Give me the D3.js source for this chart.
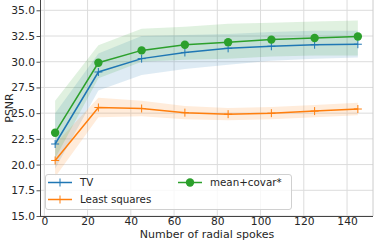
<!DOCTYPE html>
<html><head><meta charset="utf-8">
<script src="https://cdn.jsdelivr.net/npm/d3@7"></script>
<style>body{margin:0;background:#fff}svg{display:block}text{font-family:"DejaVu Sans",sans-serif}</style>
</head><body>
<svg id="c" width="374" height="241"></svg>
<script>
const spokes = [5, 25, 45, 65, 85, 105, 125, 145];
const tvMean = [22.0, 29.0, 30.3, 30.9, 31.3, 31.5, 31.65, 31.7];
const tvLow  = [19.6, 27.2, 28.7, 29.3, 29.7, 30.1, 30.3, 30.4];
const tvHigh = [25.0, 30.8, 32.5, 32.6, 32.7, 32.9, 33.0, 33.0];
const lsMean = [20.4, 25.55, 25.45, 25.05, 24.9, 25.0, 25.2, 25.4];
const lsLow  = [18.8, 24.6, 24.7, 24.4, 24.3, 24.4, 24.6, 24.8];
const lsHigh = [22.0, 26.5, 26.2, 25.7, 25.5, 25.6, 25.8, 26.0];
const mcMean = [23.1, 29.9, 31.1, 31.65, 31.9, 32.15, 32.3, 32.45];
const mcLow  = [20.6, 28.4, 30.0, 30.2, 30.3, 30.5, 30.6, 30.6];
const mcHigh = [26.2, 31.6, 33.2, 33.4, 33.7, 33.8, 33.9, 34.0];
const xTicks = [0, 20, 40, 60, 80, 100, 120, 140];
const yTicks = [15.0, 17.5, 20.0, 22.5, 25.0, 27.5, 30.0, 32.5, 35.0];
const labels = ["TV", "Least squares", "mean+covar*"];

const svg = d3.select("#c");
const L = 40, R = 373, T = 0, B = 216;
const x = d3.scaleLinear().domain([-2, 152]).range([L, R]);
const y = d3.scaleLinear().domain([15, 36]).range([B, T]);

// grid
const g = svg.append("g");
g.selectAll(".gx").data(xTicks).join("line")
  .attr("x1", d => x(d)).attr("x2", d => x(d)).attr("y1", T).attr("y2", B)
  .attr("stroke", "#dcdcdc").attr("stroke-width", 1);
g.selectAll(".gy").data(yTicks).join("line")
  .attr("x1", L).attr("x2", R).attr("y1", d => y(d)).attr("y2", d => y(d))
  .attr("stroke", "#dcdcdc").attr("stroke-width", 1);

const series = [
  {name: labels[0], mean: tvMean, low: tvLow, high: tvHigh, color: "#1f77b4", marker: "plus"},
  {name: labels[1], mean: lsMean, low: lsLow, high: lsHigh, color: "#ff7f0e", marker: "plus"},
  {name: labels[2], mean: mcMean, low: mcLow, high: mcHigh, color: "#2ca02c", marker: "circle"}
];

const area = d3.area().x(d => x(d.x)).y0(d => y(d.lo)).y1(d => y(d.hi));
const line = d3.line().x(d => x(d.x)).y(d => y(d.v));

series.forEach(s => {
  const pts = spokes.map((sx, i) => ({x: sx, v: s.mean[i], lo: s.low[i], hi: s.high[i]}));
  s.pts = pts;
  svg.append("path").attr("d", area(pts)).attr("fill", s.color).attr("fill-opacity", 0.15);
});

function drawMarker(sel, s, cx, cy) {
  if (s.marker === "plus") {
    const h = 4;
    sel.append("line").attr("x1", cx - h).attr("x2", cx + h).attr("y1", cy).attr("y2", cy).attr("stroke", s.color).attr("stroke-width", 1);
    sel.append("line").attr("x1", cx).attr("x2", cx).attr("y1", cy - h).attr("y2", cy + h).attr("stroke", s.color).attr("stroke-width", 1);
  } else {
    sel.append("circle").attr("cx", cx).attr("cy", cy).attr("r", 4.2).attr("fill", s.color);
  }
}

series.forEach(s => {
  svg.append("path").attr("d", line(s.pts)).attr("fill", "none").attr("stroke", s.color).attr("stroke-width", 1.5);
  const mg = svg.append("g");
  s.pts.forEach(p => drawMarker(mg, s, x(p.x), y(p.v)));
});

// axes
const ax = svg.append("g").attr("transform", `translate(0,${B})`)
  .call(d3.axisBottom(x).tickValues(xTicks).tickSize(0).tickPadding(1.5).tickFormat(d3.format("d")));
const ay = svg.append("g").attr("transform", `translate(${L},0)`)
  .call(d3.axisLeft(y).tickValues(yTicks).tickSize(3.5).tickPadding(1.5).tickFormat(d3.format(".1f")));
[ax, ay].forEach(a => {
  a.selectAll("text").attr("font-size", 10.7).attr("fill", "#262626").attr("font-family", "DejaVu Sans");
  a.selectAll("line").attr("stroke", "#555");
  a.select(".domain").attr("stroke", "#444").attr("stroke-width", 1);
});
ax.select(".domain").attr("d", `M${L},0.5H${R}`);
ay.select(".domain").attr("d", `M0.5,${T}V${B}`);
svg.append("line").attr("x1", R).attr("x2", R).attr("y1", T).attr("y2", B).attr("stroke", "#ccc");

svg.append("text").attr("x", 207).attr("y", 238.3).attr("text-anchor", "middle")
  .attr("font-size", 11).attr("fill", "#262626").text("Number of radial spokes");
svg.append("text").attr("transform", `translate(13,${(T + B) / 2}) rotate(-90)`).attr("text-anchor", "middle")
  .attr("font-size", 11).attr("fill", "#262626").text("PSNR");

// legend
const lg = svg.append("g");
lg.append("rect").attr("x", 45.5).attr("y", 174.5).attr("width", 246).attr("height", 35).attr("rx", 2.5)
  .attr("fill", "#fff").attr("fill-opacity", 0.8).attr("stroke", "#d0d0d0");
const pos = [{x: 48, y: 182.5}, {x: 48, y: 199.5}, {x: 178, y: 182.5}];
series.forEach((s, i) => {
  const p = pos[i];
  lg.append("line").attr("x1", p.x).attr("x2", p.x + 24).attr("y1", p.y).attr("y2", p.y).attr("stroke", s.color).attr("stroke-width", 1.5);
  drawMarker(lg, s, p.x + 12, p.y);
  lg.append("text").attr("x", p.x + 32).attr("y", p.y + 3.7).attr("font-size", 10.3).attr("fill", "#262626").text(s.name);
});
</script>
</body></html>
